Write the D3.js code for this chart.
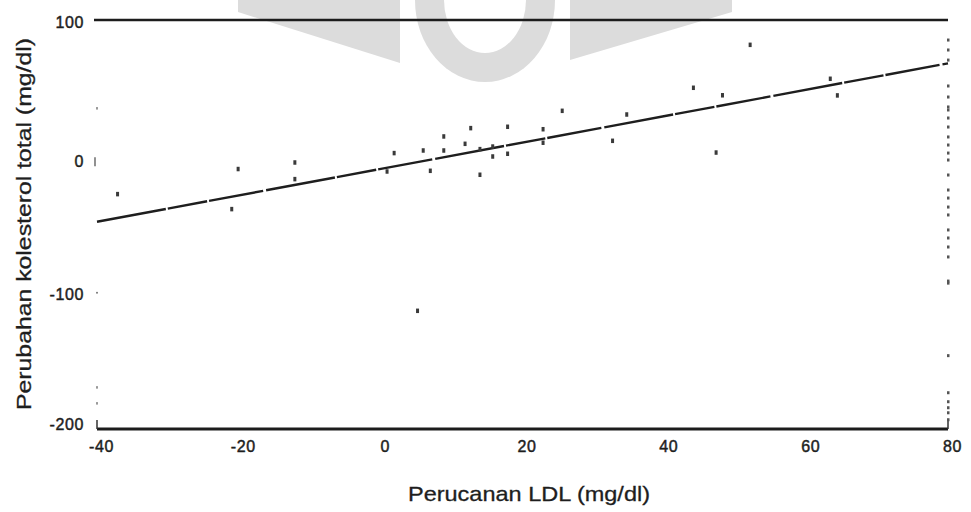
<!DOCTYPE html>
<html>
<head>
<meta charset="utf-8">
<script src="https://cdn.jsdelivr.net/npm/d3@7"></script>
<style>
  html, body { margin: 0; padding: 0; background: #ffffff; }
  svg { display: block; }
  text { font-family: "Liberation Sans", Arial, sans-serif; fill: #1e1e1e; }
</style>
</head>
<body>
<svg id="chart" width="971" height="512"></svg>
<script>
// ---- data ----
const xTicks = [-40, -20, 0, 20, 40, 60, 80];
const xTickLabels = ["-40", "-20", "0", "20", "40", "60", "80"];
const yTicks = [100, 0, -100, -200];
const yTickLabels = ["100", "0", "-100", "-200"];

// scatter: LDL change (x) vs total cholesterol change (y)
const ptsX = [-37.1, -20.1, -21.0, -12.1, -12.1, 0.9, 1.9, 6.0, 7.0, 8.9, 8.9, 11.9, 12.7,
              14.0, 14.0, 15.8, 15.8, 17.9, 17.9, 22.9, 22.9, 25.6, 32.7, 34.7, 44.1, 48.2,
              47.3, 52.1, 63.4, 64.4, 5.2];
const ptsY = [-27.9, -9.5, -38.9, -4.7, -16.9, -11.3, 2.2, 4.1, -10.8, 14.4, 4.1, 9.0, 20.5,
              5.1, -13.7, 7.0, -0.3, 21.5, 1.7, 19.7, 9.8, 33.2, 11.2, 30.5, 50.1, 44.6,
              2.6, 81.6, 56.7, 44.5, -113.5];

// points piled on the right edge (x = 80)
const edgeY = [85.3, 78.0, 70.6, 51.6, 43.5, 36.2, 34.0, 28.1, 21.5, 14.2, 8.3, 2.4, -2.7,
               -13.7, -24.7, -30.6, -37.2, -43.0, -54.0, -59.9, -66.5, -73.8, -91.5, -93.0,
               -146.2, -173.4, -180.0, -184.4, -188.1, -193.2];
// faint points on the left edge (x = -40)
const leftEdgeY = [35.4, -169.3, -181.0];

// regression line end points
const fitX = [-40, 80];
const fitY = [-48.0, 68.2];

// ---- layout ----
const svg = d3.select("#chart");
const x = d3.scaleLinear().domain([-40, 80]).range([97, 948]);
const y = d3.scaleLinear().domain([-200, 100]).range([429, 20]);

// ---- watermark (grey logo behind the chart) ----
const wm = svg.append("g").attr("fill", "#dcdcdc");
wm.append("polygon").attr("points", "238,0 400,0 400,63 238,12");
wm.append("polygon").attr("points", "570,0 732,0 732,12 570,60");
wm.append("path").attr("d", "M415,0 A70,82 0 0 0 555,0 Z");
svg.append("path").attr("d", "M444,0 A41,53 0 0 0 526,0 Z").attr("fill", "#ffffff");
wm.append("rect").attr("x", 444).attr("y", 0).attr("width", 82).attr("height", 6);

// ---- frame lines ----
svg.append("line")
  .attr("x1", x(-40) - 3).attr("x2", x(80)).attr("y1", y(100)).attr("y2", y(100))
  .attr("stroke", "#1c1c1c").attr("stroke-width", 2.6);
svg.append("line")
  .attr("x1", x(-40)).attr("x2", x(80)).attr("y1", y(-200)).attr("y2", y(-200))
  .attr("stroke", "#1c1c1c").attr("stroke-width", 3);
// small end ticks of the bottom line
svg.append("line").attr("x1", x(-40)).attr("x2", x(-40)).attr("y1", y(-200)).attr("y2", y(-200) - 9)
  .attr("stroke", "#333").attr("stroke-width", 1.5);
svg.append("line").attr("x1", x(80)).attr("x2", x(80)).attr("y1", y(-200)).attr("y2", y(-200) - 9)
  .attr("stroke", "#333").attr("stroke-width", 1.5);
// y tick marks
svg.append("line").attr("x1", x(-40) - 2).attr("x2", x(-40) - 2).attr("y1", y(0) + 1).attr("y2", y(0) + 10)
  .attr("stroke", "#555").attr("stroke-width", 1.3);
svg.append("circle").attr("cx", x(-40)).attr("cy", y(-100)).attr("r", 1).attr("fill", "#777");

// ---- regression line ----
const fitData = fitX.map((v, i) => [v, fitY[i]]);
svg.append("path")
  .datum(fitData)
  .attr("d", d3.line().x(d => x(d[0])).y(d => y(d[1])))
  .attr("fill", "none").attr("stroke", "#1e1e1e").attr("stroke-width", 2.4)
  .attr("stroke-dasharray", "70,2,40,2,55,3");

// ---- scatter points ----
const pts = ptsX.map((v, i) => ({ x: v, y: ptsY[i] }));
svg.append("g").selectAll("rect").data(pts).join("rect")
  .attr("x", d => x(d.x) - 1.5).attr("y", d => y(d.y) - 2.5)
  .attr("width", 3).attr("height", 4.5)
  .attr("fill", "#3a3a3a");

svg.append("g").selectAll("rect").data(edgeY).join("rect")
  .attr("x", x(80) - 1).attr("y", d => y(d) - 1.5)
  .attr("width", 2.5).attr("height", 3)
  .attr("fill", "#555");

svg.append("g").selectAll("rect").data(leftEdgeY).join("rect")
  .attr("x", x(-40) - 1).attr("y", d => y(d) - 1)
  .attr("width", 2).attr("height", 2.5)
  .attr("fill", "#999");

// ---- axes via d3 ----
const xAxis = d3.axisBottom(x).tickValues(xTicks).tickSize(0)
  .tickFormat((d, i) => xTickLabels[i]);
const gx = svg.append("g").attr("transform", `translate(4, ${y(-200) + 9})`).call(xAxis);
gx.select(".domain").remove();
gx.selectAll("text").attr("font-size", 16).attr("letter-spacing", "0.6px")
  .attr("fill", "#1e1e1e").attr("stroke", "#1e1e1e").attr("stroke-width", 0.45)
  .style("font-family", "Liberation Sans, Arial, sans-serif");

const yAxis = d3.axisLeft(y).tickValues(yTicks).tickSize(0)
  .tickFormat((d, i) => yTickLabels[i]);
const gy = svg.append("g").attr("transform", `translate(${x(-40) - 10}, 2)`).call(yAxis);
gy.select(".domain").remove();
gy.selectAll("text").attr("font-size", 16).attr("letter-spacing", "0.6px")
  .attr("fill", "#1e1e1e").attr("stroke", "#1e1e1e").attr("stroke-width", 0.45)
  .style("font-family", "Liberation Sans, Arial, sans-serif");
gy.selectAll(".tick").filter(d => d === -200).attr("transform", `translate(0, ${y(-200) - 6})`);
gy.selectAll(".tick").filter(d => d === 0).attr("transform", `translate(0, ${y(0) + 4})`);

// ---- axis titles ----
svg.append("text")
  .attr("x", 529).attr("y", 501)
  .attr("text-anchor", "middle")
  .attr("font-size", 21)
  .attr("stroke", "#1e1e1e").attr("stroke-width", 0.3)
  .attr("textLength", 242).attr("lengthAdjust", "spacingAndGlyphs")
  .text("Perucanan LDL (mg/dl)");

svg.append("text")
  .attr("transform", "translate(31, 224) rotate(-90)")
  .attr("text-anchor", "middle")
  .attr("font-size", 21)
  .attr("stroke", "#1e1e1e").attr("stroke-width", 0.3)
  .attr("textLength", 372).attr("lengthAdjust", "spacingAndGlyphs")
  .text("Perubahan kolesterol total (mg/dl)");
</script>
</body>
</html>
